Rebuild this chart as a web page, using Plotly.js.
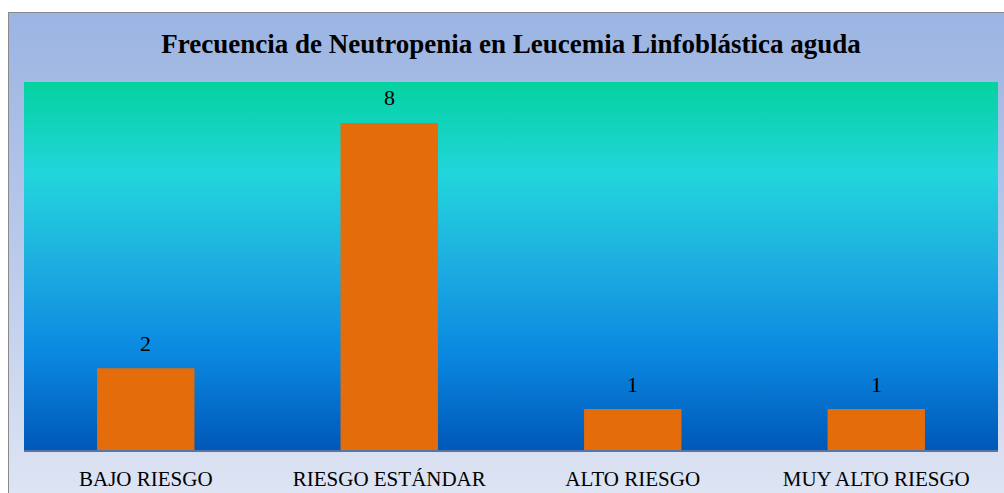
<!DOCTYPE html>
<html>
<head>
<meta charset="utf-8">
<script src="https://cdn.plot.ly/plotly-3.0.1.min.js"></script>
<style>
  html, body { margin: 0; padding: 0; width: 1004px; height: 493px; overflow: hidden; background: #ffffff; }
  #frame { position: absolute; left: 8px; top: 12px; width: 1000px; height: 490px; border: 1px solid #8a8a8a;
    background: linear-gradient(to bottom, #9bb4e2 0%, #b8c8ea 45%, #dfe5f3 100%); }
  #plotbg { position: absolute; left: 24px; top: 82px; width: 974px; height: 368px;
    background: linear-gradient(to bottom, #04d2a0 0%, #22d5dc 25%, #1eaee0 49%, #0a88e0 74%, #0058b8 100%); }
  #chart { position: absolute; left: 0; top: 0; width: 1004px; height: 493px; }
</style>
</head>
<body>
<div id="frame"></div>
<div id="plotbg"></div>
<div id="chart"></div>
<script>
const categories = ["BAJO RIESGO", "RIESGO ESTÁNDAR", "ALTO RIESGO", "MUY ALTO RIESGO"];
const values = [2, 8, 1, 1];
const chartTitle = "Frecuencia de Neutropenia en Leucemia Linfoblástica aguda";

const serif = '"Liberation Serif", "Times New Roman", "DejaVu Serif", serif';

const trace = {
  type: 'bar',
  x: categories,
  y: values,
  marker: { color: '#e46c0a', line: { width: 0 } },
  hoverinfo: 'none'
};

const annotations = categories.map((c, i) => ({
  x: c, y: values[i], xref: 'x', yref: 'y',
  text: String(values[i]), showarrow: false,
  yanchor: 'middle', yshift: 25,
  font: { family: serif, size: 22, color: '#000000' }
}));

const layout = {
  width: 1004, height: 493,
  margin: { l: 24, r: 6, t: 82, b: 43, pad: 0 },
  paper_bgcolor: 'rgba(0,0,0,0)',
  plot_bgcolor: 'rgba(0,0,0,0)',
  showlegend: false,
  bargap: 0.6,
  title: {
    text: '<b>' + chartTitle + '</b>',
    font: { family: serif, size: 27, color: '#000000' },
    x: 0.5, xref: 'paper', xanchor: 'center',
    y: 1 - 44 / 493, yref: 'container', yanchor: 'middle'
  },
  xaxis: {
    type: 'category',
    showline: true, linecolor: '#5577a8', linewidth: 2,
    showgrid: false, zeroline: false,
    ticks: '', ticklabelstandoff: 9,
    tickfont: { family: serif, size: 21, color: '#000000' },
    fixedrange: true
  },
  yaxis: {
    visible: false, range: [0, 9], fixedrange: true
  },
  annotations: annotations
};

Plotly.newPlot('chart', [trace], layout, { displayModeBar: false, staticPlot: true });
</script>
</body>
</html>
